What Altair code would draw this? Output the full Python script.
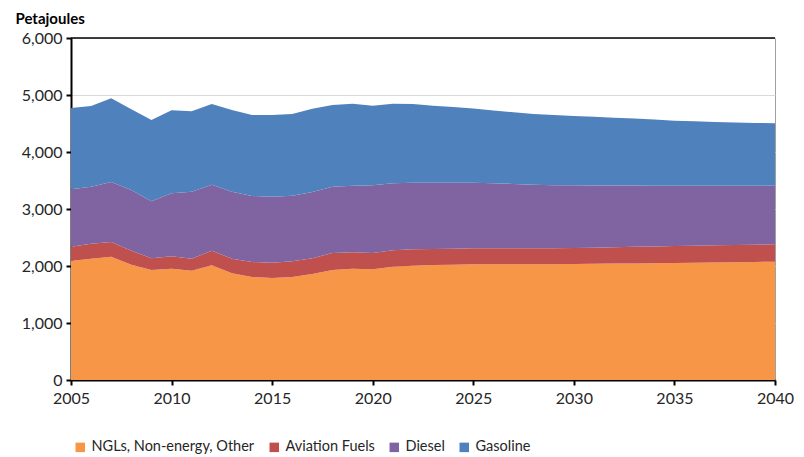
import altair as alt
import pandas as pd

years = list(range(2005, 2041))

ngls = [2088, 2129, 2164, 2023, 1930, 1953, 1918, 2012, 1871, 1807, 1789, 1807,
        1860, 1930, 1953, 1942, 1988, 2006, 2018, 2023, 2029, 2029, 2029, 2030,
        2032, 2035, 2038, 2042, 2045, 2049, 2053, 2057, 2062, 2066, 2071, 2076]
aviation = [251, 263, 257, 246, 205, 217, 211, 257, 258, 263, 269, 275,
            275, 298, 287, 286, 287, 286, 280, 281, 281, 281, 281, 282,
            280, 280, 284, 288, 292, 295, 298, 300, 301, 303, 304, 304]
diesel = [1006, 1000, 1053, 1064, 1000, 1105, 1175, 1158, 1175, 1158, 1158, 1152,
          1163, 1164, 1169, 1187, 1175, 1170, 1164, 1158, 1150, 1140, 1129, 1113,
          1106, 1100, 1091, 1082, 1074, 1066, 1058, 1052, 1046, 1040, 1034, 1029]
gasoline = [1425, 1415, 1468, 1416, 1426, 1456, 1409, 1415, 1433, 1421, 1433, 1433,
            1462, 1433, 1439, 1398, 1398, 1378, 1348, 1328, 1302, 1278, 1258, 1243,
            1232, 1217, 1204, 1189, 1175, 1158, 1141, 1130, 1119, 1109, 1101, 1094]

series_names = ["NGLs, Non-energy, Other", "Aviation Fuels", "Diesel", "Gasoline"]
series_colors = ["#F79646", "#C0504D", "#8064A2", "#4F81BD"]
series_values = [ngls, aviation, diesel, gasoline]

rows = []
for i, (name, vals) in enumerate(zip(series_names, series_values)):
    for y, v in zip(years, vals):
        rows.append({"year": y, "series": name, "value": v, "order": i})
df = pd.DataFrame(rows)

FONT = "Lato"
TXT = "#262626"

area = alt.Chart(df).mark_area(opacity=1).encode(
    x=alt.X("year:Q", scale=alt.Scale(domain=[2005, 2040], nice=False),
            axis=alt.Axis(values=list(range(2005, 2041, 5)), format="d", title=None,
                          grid=False, domain=True, domainColor="black", domainWidth=2,
                          ticks=True, tickColor="black", tickSize=5, tickWidth=2,
                          labelFlush=False, labelOverlap=False, labelPadding=5)),
    y=alt.Y("value:Q", stack="zero",
            scale=alt.Scale(domain=[0, 6000], nice=False),
            axis=alt.Axis(values=list(range(0, 6001, 1000)), format=",d",
                          title="Petajoules", titleAngle=0, titleAlign="left",
                          titleBaseline="bottom", titleX=-56, titleY=-12,
                          titleFontWeight="bold", titleFontSize=15,
                          grid=True, gridColor="#D9D9D9", gridWidth=1,
                          domainColor="black", domainWidth=2,
                          tickColor="black", tickSize=5, tickWidth=2,
                          labelFlush=False, labelPadding=4)),
    color=alt.Color("series:N", sort=series_names,
                    scale=alt.Scale(domain=series_names, range=series_colors),
                    legend=alt.Legend(title=None, orient="none", direction="horizontal",
                                      legendX=2, legendY=402, symbolType="square",
                                      symbolSize=90, symbolStrokeWidth=0,
                                      columnPadding=12, labelFontSize=14.5,
                                      labelFont=FONT, labelColor=TXT,
                                      labelLimit=300)),
    order=alt.Order("order:Q", sort="ascending"),
)

top_rule = alt.Chart(pd.DataFrame({"v": [6000]})).mark_rule(color="black", strokeWidth=1.5).encode(
    y="v:Q"
)

chart = alt.layer(area, top_rule).properties(
    width=704, height=342,
    padding={"left": 63, "top": 30, "right": 21, "bottom": 77},
    autosize=alt.AutoSizeParams(type="none"),
).configure_view(stroke="#A0A0A0", strokeWidth=1).configure_axis(
    labelFont=FONT, titleFont=FONT, labelFontSize=16, labelColor=TXT, titleColor="black"
)

chart.save("out.html", embed_options={"renderer": "svg", "actions": False})
